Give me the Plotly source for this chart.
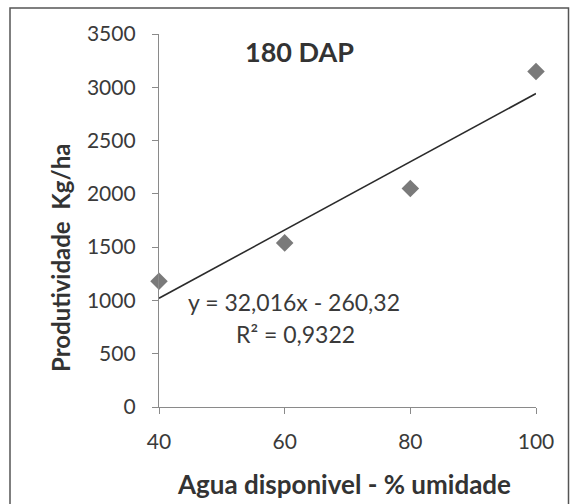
import plotly.graph_objects as go

# Data
x_values = [40, 60, 80, 100]
y_values = [1180, 1540, 2050, 3148]
trend_slope = 32.016
trend_intercept = -260.32
x_ticks = [40, 60, 80, 100]
y_ticks = [0, 500, 1000, 1500, 2000, 2500, 3000, 3500]
title_text = "180 DAP"
x_title = "Agua disponivel - % umidade"
y_title = "Produtividade  Kg/ha"
eq_text = "y = 32,016x - 260,32"
r2_text = "R² = 0,9322"

W, H = 570, 504
L, R, T, B = 159, 34, 34, 97
pw, ph = W - L - R, H - T - B

def px(xp):
    return (xp - L) / pw

def py(yp):
    return (H - B - yp) / ph

FONT = "Lato"

trend_x = [x_values[0], x_values[-1]]
trend_y = [trend_slope * v + trend_intercept for v in trend_x]

fig = go.Figure()
fig.add_trace(go.Scatter(x=trend_x, y=trend_y, mode="lines",
                         line=dict(color="#2b2b2b", width=1.6),
                         showlegend=False, hoverinfo="skip", cliponaxis=False))
fig.add_trace(go.Scatter(x=x_values, y=y_values, mode="markers",
                         marker=dict(symbol="diamond", size=13.5, color="#7a7a7a",
                                     line=dict(width=0)),
                         showlegend=False, cliponaxis=False))

fig.update_layout(
    width=W, height=H,
    margin=dict(l=L, r=R, t=T, b=B),
    paper_bgcolor="white", plot_bgcolor="white",
    font=dict(family=FONT, color="#3a3a3a"),
    xaxis=dict(range=[40, 100], tickvals=x_ticks, ticktext=[str(v) for v in x_ticks],
               showgrid=False, zeroline=False, showline=True, linecolor="#8a8a8a",
               linewidth=1.3, ticks="outside", ticklen=6, tickcolor="#8a8a8a",
               tickfont=dict(family=FONT, size=21, color="#3a3a3a"),
               ticklabelstandoff=10),
    yaxis=dict(range=[0, 3500], tickvals=y_ticks, ticktext=[str(v) for v in y_ticks],
               showgrid=False, zeroline=False, showline=True, linecolor="#8a8a8a",
               linewidth=1.3, ticks="outside", ticklen=6, tickcolor="#8a8a8a",
               tickfont=dict(family=FONT, size=21, color="#3a3a3a"),
               ticklabelstandoff=12),
    shapes=[dict(type="rect", xref="paper", yref="paper",
                 x0=px(10), x1=px(568.5), y0=py(520), y1=py(8),
                 line=dict(color="#555555", width=1.5), fillcolor="rgba(0,0,0,0)",
                 layer="below")],
    annotations=[
        dict(text="<b>" + title_text + "</b>", xref="paper", yref="paper",
             x=px(299), y=py(51), showarrow=False, xanchor="center", yanchor="middle",
             font=dict(family=FONT, size=27, color="#333333")),
        dict(text="<b>" + x_title + "</b>", xref="paper", yref="paper",
             x=px(344), y=py(484), showarrow=False, xanchor="center", yanchor="middle",
             font=dict(family=FONT, size=26, color="#333333")),
        dict(text="<b>" + y_title + "</b>", xref="paper", yref="paper",
             x=px(60), y=py(258), showarrow=False, xanchor="center", yanchor="middle",
             textangle=-90, font=dict(family=FONT, size=24, color="#333333")),
        dict(text=eq_text, xref="paper", yref="paper",
             x=px(294), y=py(302), showarrow=False, xanchor="center", yanchor="middle",
             font=dict(family=FONT, size=23, color="#3a3a3a")),
        dict(text=r2_text, xref="paper", yref="paper",
             x=px(295), y=py(334), showarrow=False, xanchor="center", yanchor="middle",
             font=dict(family=FONT, size=23, color="#3a3a3a")),
    ],
)

fig.write_html("out.html")
